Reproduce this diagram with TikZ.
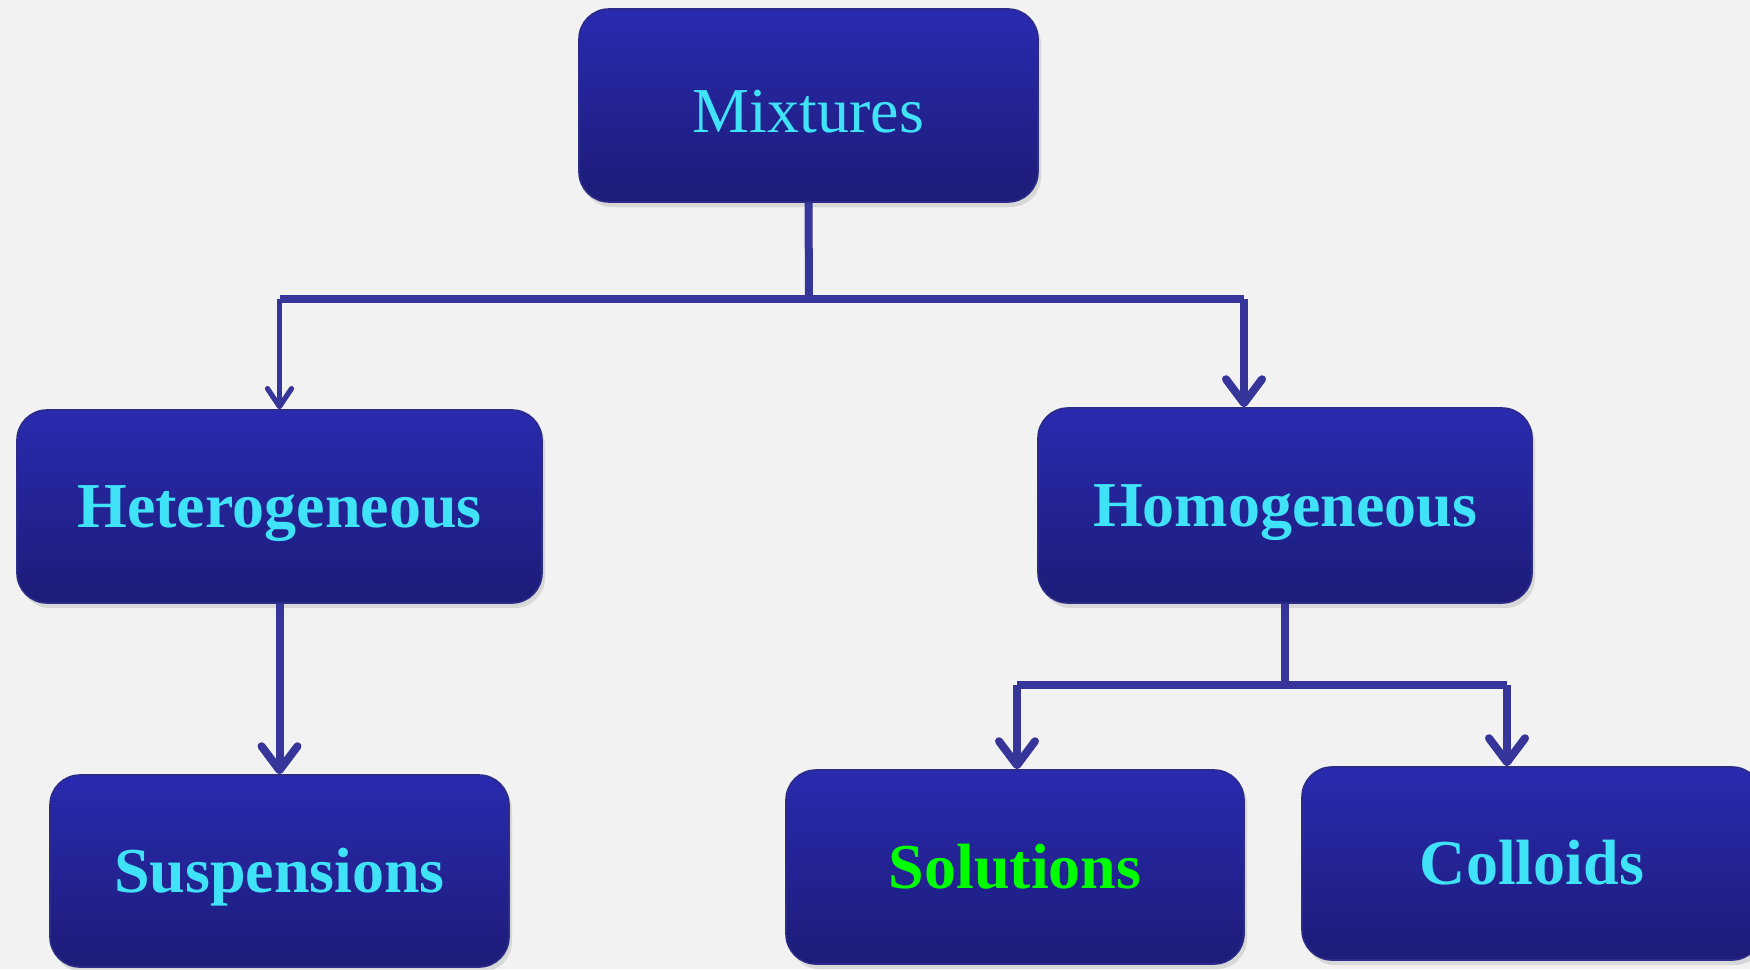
\documentclass[tikz,border=0pt]{standalone}
\usepackage{fontspec}
\setmainfont{Liberation Serif}
\usetikzlibrary{arrows.meta,shadows}
\definecolor{bgc}{HTML}{F2F2F2}
\definecolor{boxtop}{HTML}{2A2AB0}
\definecolor{boxbot}{HTML}{1C1C78}
\definecolor{boxedge}{HTML}{2C2C88}
\definecolor{linec}{HTML}{35359A}
\definecolor{txtc}{HTML}{40E2F8}
\definecolor{txtg}{HTML}{00FF00}
\tikzset{
  box/.style={rounded corners=15pt, top color=boxtop, bottom color=boxbot,
    draw=boxedge, line width=0.8pt, inner sep=0pt,
    text height=21pt, text depth=0pt, text=txtc,
    font=\fontsize{32}{38}\selectfont\bfseries,
    drop shadow={opacity=0.22, shadow xshift=1.5pt, shadow yshift=-2.5pt}},
  conn/.style={draw=linec, line width=4pt},
  arr/.style={conn, -{Straight Barb[length=12pt,width=18pt,round]}},
  thinarr/.style={draw=linec, line width=2.6pt, -{Straight Barb[length=9pt,width=12pt,round]}}
}
\begin{document}
\begin{tikzpicture}[x=0.5pt,y=-0.5pt]
\fill[bgc] (0,0) rectangle (1750,969);
\useasboundingbox (0,0) rectangle (1750,969);
\clip (0,0) rectangle (1750,969);
\node[box, minimum width=229.5pt, minimum height=96.5pt, text height=26.5pt, font=\fontsize{32}{38}\selectfont] (mix) at (808.5,105.5) {Mixtures};
\node[box, minimum width=262.5pt, minimum height=96.5pt] (het) at (279.5,506.5) {Heterogeneous};
\node[box, minimum width=247pt, minimum height=97.5pt] (hom) at (1285,505.5) {Homogeneous};
\node[box, minimum width=229.5pt, minimum height=96pt] (sus) at (279.5,871) {Suspensions};
\node[box, minimum width=229pt, minimum height=97pt, text=txtg] (sol) at (1015,867) {Solutions};
\node[box, minimum width=230pt, minimum height=96.5pt] (col) at (1532,863.5) {Colloids};
\coordinate (b1) at (809,299);
\coordinate (b1l) at (279.5,299);
\coordinate (b1r) at (1244,299);
\coordinate (b2) at (1285,685);
\coordinate (b2l) at (1017,685);
\coordinate (b2r) at (1507,685);
\draw[conn] (mix.south) -- (b1);
\draw[conn] (b1l) -- (b1r);
\draw[thinarr] (b1l) -- (het.north);
\draw[arr] (b1r) -- (b1r |- hom.north);
\draw[arr] (het.south) -- (sus.north);
\draw[conn] (hom.south) -- (b2);
\draw[conn] (b2l) -- (b2r);
\draw[arr] (b2l) -- (b2l |- sol.north);
\draw[arr] (b2r) -- (b2r |- col.north);
\end{tikzpicture}
\end{document}
